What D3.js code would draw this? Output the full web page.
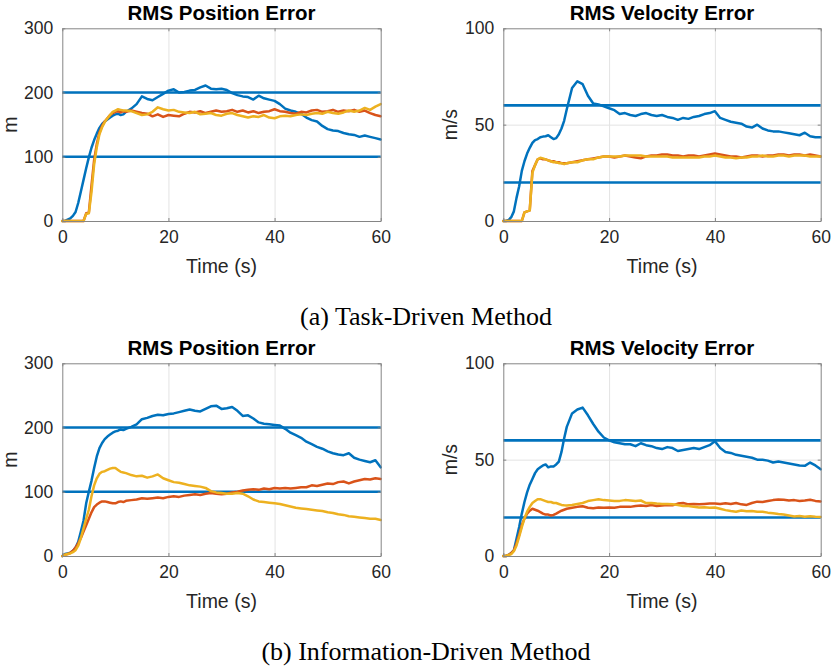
<!DOCTYPE html>
<html>
<head>
<meta charset="utf-8">
<script src="https://cdn.jsdelivr.net/npm/d3@7"></script>
<style>
  body { margin: 0; background: #ffffff; }
  svg { display: block; }
</style>
</head>
<body>
<svg id="chart" width="833" height="666"></svg>
<script>
// ---- Data ---------------------------------------------------------------
// Sample times (s): half-second steps through the transient, then 1 s steps.
const time = [0,0.5,1,1.5,2,2.5,3,3.5,4,4.5,5,5.5,6,6.5,7,7.5,8,8.5,9,9.5,10,10.5,11,11.5,12,
  13,14,15,16,17,18,19,20,21,22,23,24,25,26,27,28,29,30,31,32,33,34,35,36,37,38,39,40,
  41,42,43,44,45,46,47,48,49,50,51,52,53,54,55,56,57,58,59,60];

const xTicks = [0, 20, 40, 60];
const posTicks = [0, 100, 200, 300];
const velTicks = [0, 50, 100];
const posThresholds = [100, 200];
const velThresholds = [20, 60];
const seriesNames = ["Target 1", "Target 2", "Target 3"];

// (a) Task-driven method: RMS position error (m)
const tdPos1 = [0,0,2,4,8,14,28,46,64,82,99,114,126,136,145,151,155,158,161,164,166,167,165,166,170,
  175,182,194,190,188,193,198,203,205,200,
  201,203,204,208,211,206,205,206,204,199,
  196,194,193,189,195,191,189,187,182,175,
  172,170,167,161,157,155,148,143,141,140,
  137,135,134,131,133,131,129,127];
const tdPos2 = [0,0,0,0,0,0,0,0,0,12,13,55,95,120,138,148,155,160,165,168,170,171,169,171,170,
  172,170,168,167,163,166,162,165,164,163,
  167,170,169,171,168,170,172,170,171,173,
  170,172,169,171,168,170,171,174,171,170,
  168,167,170,169,172,173,170,171,173,170,
  172,171,173,170,172,168,165,163];
const tdPos3 = [0,0,0,0,0,0,0,0,0,11,12,45,88,115,135,146,154,160,165,170,172,174,173,172,172,
  171,168,165,166,170,177,174,172,173,170,
  169,168,170,166,167,168,165,164,167,168,
  165,163,161,163,162,165,161,160,163,164,
  163,165,166,165,167,168,167,170,168,167,
  169,172,170,172,176,173,178,182];

// (a) Task-driven method: RMS velocity error (m/s)
const tdVel1 = [0,0,0.5,2,5,12,18,26,31,35,38,40.5,42,42.5,43.5,43.8,44,44.5,43.5,42.5,43,45,48,52,58,
  69,72.5,71,65,61,60.5,59.5,58.5,57.5,55.5,
  56,55,54.5,55.5,56,55,54.5,55,54,53.5,
  52.5,53.5,53,54,54.5,55.5,56,57,53.5,52.5,
  51.5,51,50.5,49,48.5,50,48,47,46.5,46.5,
  46,45.5,45,44.5,45.8,44,43.5,43.5];
const tdVel2 = [0,0,0,0,0,0,0,0,4.5,5,5.5,26,29,32,32.5,32,32,31.5,31,31,30.5,30.5,30,30,30,
  30.5,31,31.5,32,32.5,33,33.5,33.5,33,33.5,
  34,33.5,33,32.5,33.5,34,34,34.5,34.5,34,
  34,33.5,34,34,33.5,34,34.5,35,34.5,34,
  33.5,33.5,33,33.5,34,34,33.5,34,34,34.5,
  34.5,34,34.5,34.5,34,34.5,34,33.5];
const tdVel3 = [0,0,0,0,0,0,0,0,4.5,5,5.5,25,29,32,32.8,32.5,32,31.5,31,30.5,30.5,30,30,29.5,30,
  30.5,30.5,31.5,32,32,33,33.5,33.5,33.5,33.5,
  34,34,34,34,33.5,33.5,33.5,33.5,33.5,33,
  33,33,33,33,33,33.5,33.5,34,33.5,33,
  33,32.5,33,33,33.5,33.5,34,33.5,33.5,34,
  34,33.5,34,34,34,33.5,33.5,33.5];

// (b) Information-driven method: RMS position error (m)
const idPos1 = [0,3,4,5,8,13,22,38,55,82,100,117,137,155,168,176,182,186,189,192,194,195,197,196,198,
  201,205,213,215,218,220,219,221,222,224,
  226,228,226,225,229,233,234,229,230,232,
  226,218,219,214,208,206,205,204,203,198,
  192,188,184,178,174,170,167,163,160,158,
  157,160,153,150,148,146,149,138];
const idPos2 = [0,2,3,5,8,13,20,28,38,48,58,68,76,80,83,85,85,84,83,82,82,84,85,84,86,
  87,88,90,89,90,91,90,92,93,92,
  94,95,96,95,97,98,97,96,97,99,
  100,102,103,104,103,105,104,106,105,106,
  105,106,107,107,110,109,111,113,112,115,
  116,113,116,118,120,119,121,120];
const idPos3 = [0,2,3,4,6,9,16,28,43,58,72,93,110,121,128,131,132,134,136,137,137,134,131,130,129,
  126,124,125,122,124,127,121,118,115,114,
  112,110,109,108,106,101,99,98,97,97,
  98,97,93,88,85,84,83,82,81,79,
  77,75,74,73,72,71,70,68,67,65,
  64,62,61,60,59,58,58,56];

// (b) Information-driven method: RMS velocity error (m/s)
const idVel1 = [0,0,0.5,1.5,3,9,15,22,28,33,37,40,43,45,46,47,47.5,46,46.5,46.5,47.5,49,54,61,67,
  74,76,77,73,68.5,64.5,61.5,60,59,58.5,
  58,58,57,58.5,57.5,57,56,55.5,56.5,56,
  54.5,55,55.5,56,55.5,56.5,57.5,59.5,56,54,
  53.5,52.5,52,51.5,51,50,50,49.5,48.5,49,
  48.5,48,47.5,47,46.8,48.5,47,45];
const idVel2 = [0,0,0.5,1.5,3,6.5,11,16,19.5,22,23.5,24.5,24,23.5,22.8,22,21.5,21.5,21,21.3,22,22.8,23.5,24,24.5,
  25,25.5,25.8,25,24.8,25.2,25,25.2,25,25.5,
  25.6,25.5,26,26.2,26,26.5,26,26.2,26.5,26.3,
  27.2,27.5,26.8,27,26.8,27,27.2,27.3,27,27.4,
  27,27.5,26.8,26.5,27.5,28.2,28,28.5,29,29.3,
  29.2,28.8,29,28.5,28.8,29.2,28.6,28.3];
const idVel3 = [0,0,0.5,1,2.5,5.5,10,15,19.5,23,25.5,27.5,28.5,29.5,29.5,29,28.5,28,28,27.5,27.5,27,26.5,26.3,26.2,
  26.5,27,27.5,28.5,29,29.5,29,28.8,28.6,28.6,
  29,28.8,28.5,28.8,27.5,27.5,27.2,27,27,26.8,
  26.5,26,26,25.5,25.2,25.3,25,25.2,24.5,23.8,
  23.3,23,23.6,23.2,23.4,23,23,22.5,22.2,21.8,
  21.5,21,20.5,20.7,20.4,20.6,20.4,20.3];

// ---- Styling ------------------------------------------------------------
const colors = ["#0072BD", "#D95319", "#EDB120"];
const thresholdColor = "#0072BD";
const sansFont = "'Liberation Sans', Arial, Helvetica, sans-serif";
const serifFont = "'Liberation Serif', 'Times New Roman', Times, serif";
const axisColor = "#858585";
const textColor = "#262626";
const gridColor = "#e3e3e3";

const panels = [
  { left: 62.3, right: 380.7, top: 28.3, bottom: 221, yMax: 300, yTicks: posTicks,
    title: "RMS Position Error", ylabel: "m", ylabelX: 17,
    series: [tdPos1, tdPos2, tdPos3], thresholds: posThresholds },
  { left: 503.3, right: 820.7, top: 28.3, bottom: 221, yMax: 100, yTicks: velTicks,
    title: "RMS Velocity Error", ylabel: "m/s", ylabelX: 456.5,
    series: [tdVel1, tdVel2, tdVel3], thresholds: velThresholds },
  { left: 62.3, right: 380.7, top: 363.3, bottom: 556, yMax: 300, yTicks: posTicks,
    title: "RMS Position Error", ylabel: "m", ylabelX: 17,
    series: [idPos1, idPos2, idPos3], thresholds: posThresholds },
  { left: 503.3, right: 820.7, top: 363.3, bottom: 556, yMax: 100, yTicks: velTicks,
    title: "RMS Velocity Error", ylabel: "m/s", ylabelX: 456.5,
    series: [idVel1, idVel2, idVel3], thresholds: velThresholds }
];

const captions = [
  { text: "(a) Task-Driven Method", y: 325 },
  { text: "(b) Information-Driven Method", y: 660 }
];

const svg = d3.select("#chart");

function styleAxis(g, withText) {
  g.select(".domain").attr("stroke", axisColor).attr("stroke-width", 1);
  g.selectAll(".tick line").attr("stroke", axisColor).attr("stroke-width", 1);
  if (withText) {
    g.selectAll(".tick text")
      .attr("fill", textColor)
      .style("font-family", sansFont)
      .style("font-size", "17.5px");
  } else {
    g.selectAll(".tick text").remove();
  }
}

panels.forEach(p => {
  const x = d3.scaleLinear().domain([0, 60]).range([p.left, p.right]);
  const y = d3.scaleLinear().domain([0, p.yMax]).range([p.bottom, p.top]);
  const w = p.right - p.left, h = p.bottom - p.top;
  const g = svg.append("g");

  // grid
  g.append("g")
    .attr("transform", `translate(0,${p.bottom})`)
    .call(d3.axisBottom(x).tickValues(xTicks.slice(1, -1)).tickSize(-h).tickFormat(""))
    .call(a => { a.select(".domain").remove(); a.selectAll(".tick line").attr("stroke", gridColor); });
  g.append("g")
    .attr("transform", `translate(${p.left},0)`)
    .call(d3.axisLeft(y).tickValues(p.yTicks.slice(1, -1)).tickSize(-w).tickFormat(""))
    .call(a => { a.select(".domain").remove(); a.selectAll(".tick line").attr("stroke", gridColor); });

  // threshold levels
  const hLine = d3.line().x(d => x(d[0])).y(d => y(d[1]));
  p.thresholds.forEach(v => {
    g.append("path")
      .datum([[0, v], [60, v]])
      .attr("d", hLine)
      .attr("fill", "none")
      .attr("stroke", thresholdColor)
      .attr("stroke-width", 2.6);
  });

  // error curves
  const line = d3.line().x((d, i) => x(time[i])).y(d => y(d));
  p.series.forEach((s, k) => {
    g.append("path")
      .datum(s)
      .attr("class", "series")
      .attr("data-name", seriesNames[k])
      .attr("d", line)
      .attr("fill", "none")
      .attr("stroke", colors[k])
      .attr("stroke-width", 2.5)
      .attr("stroke-linejoin", "round")
      .attr("stroke-linecap", "round");
  });

  // axes with inward ticks on all four sides
  g.append("g")
    .attr("transform", `translate(0,${p.bottom})`)
    .call(d3.axisBottom(x).tickValues(xTicks).tickSizeInner(-3).tickSizeOuter(0).tickPadding(10).tickFormat(d3.format("d")))
    .call(a => styleAxis(a, true));
  g.append("g")
    .attr("transform", `translate(0,${p.top})`)
    .call(d3.axisTop(x).tickValues(xTicks).tickSizeInner(-3).tickSizeOuter(0))
    .call(a => styleAxis(a, false));
  g.append("g")
    .attr("transform", `translate(${p.left},0)`)
    .call(d3.axisLeft(y).tickValues(p.yTicks).tickSizeInner(-3).tickSizeOuter(0).tickPadding(9).tickFormat(d3.format("d")))
    .call(a => styleAxis(a, true));
  g.append("g")
    .attr("transform", `translate(${p.right},0)`)
    .call(d3.axisRight(y).tickValues(p.yTicks).tickSizeInner(-3).tickSizeOuter(0))
    .call(a => styleAxis(a, false));

  // title
  g.append("text")
    .attr("x", (p.left + p.right) / 2)
    .attr("y", p.top - 8)
    .attr("text-anchor", "middle")
    .style("font-family", sansFont)
    .style("font-weight", "bold")
    .style("font-size", "20.5px")
    .attr("fill", "#000")
    .text(p.title);

  // x label
  g.append("text")
    .attr("x", (p.left + p.right) / 2)
    .attr("y", p.bottom + 52)
    .attr("text-anchor", "middle")
    .style("font-family", sansFont)
    .style("font-size", "19.5px")
    .attr("fill", textColor)
    .text("Time (s)");

  // y label
  g.append("text")
    .attr("transform", `translate(${p.ylabelX},${(p.top + p.bottom) / 2}) rotate(-90)`)
    .attr("text-anchor", "middle")
    .style("font-family", sansFont)
    .style("font-size", "19.5px")
    .attr("fill", textColor)
    .text(p.ylabel);
});

captions.forEach(c => {
  svg.append("text")
    .attr("x", 426)
    .attr("y", c.y)
    .attr("text-anchor", "middle")
    .style("font-family", serifFont)
    .style("font-size", "26px")
    .attr("fill", "#000")
    .text(c.text);
});
</script>
</body>
</html>
